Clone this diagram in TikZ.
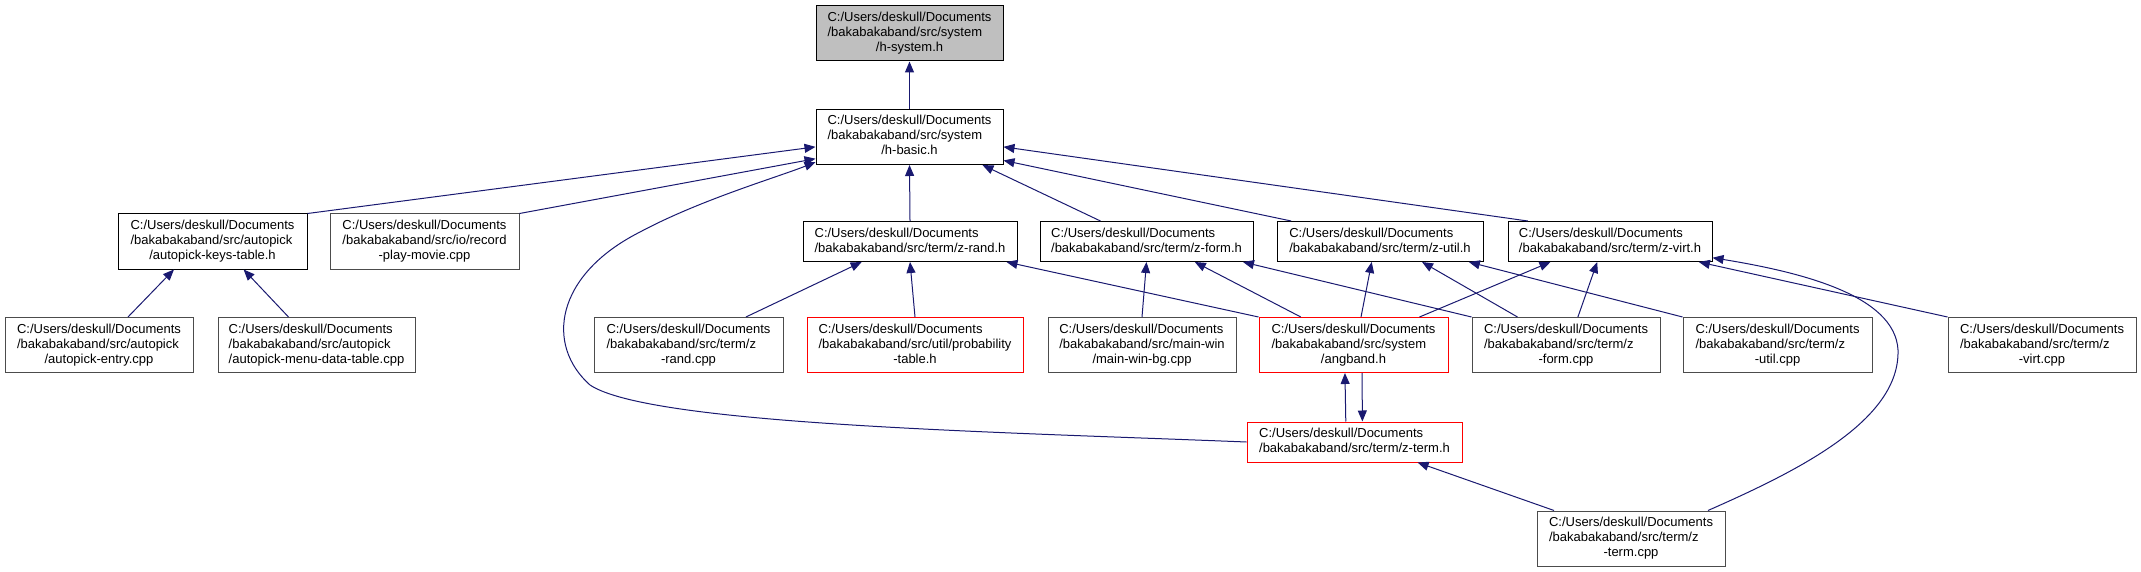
\documentclass[tikz,border=0pt]{standalone}
\usepackage{fontspec}
\setmainfont{Liberation Sans}
\usetikzlibrary{arrows.meta}
\definecolor{edgeblue}{HTML}{191970}
\definecolor{hdrgray}{HTML}{BFBFBF}
\newcommand{\flabel}[3]{\begin{tabular}{@{}l@{}}#1\\#2\\\multicolumn{1}{@{}c@{}}{#3}\end{tabular}}
\newcommand{\flabelb}[2]{\begin{tabular}{@{}l@{}}#1\\#2\end{tabular}}

\begin{document}
\begin{tikzpicture}[x=1pt, y=-1pt,
  every node/.style={font=\fontsize{13}{15}\selectfont},
  fnode/.style={draw=black, fill=white, line width=1pt, inner sep=0pt, minimum height=55},
  fnodecpp/.style={fnode, draw=black!70},
  fnodered/.style={fnode, draw=red},
  incl/.style={edgeblue, line width=1pt, -{Triangle[length=11pt, width=9pt]}}]
  \useasboundingbox (0,0) rectangle (2141,572);
  % top two
  \node[fnode, fill=hdrgray, minimum width=187] (hsystem) at (909.5,33.5) {\flabel{C:/Users/deskull/Documents}{/bakabakaband/src/system}{/h-system.h}};
  \node[fnode, minimum width=187] (hbasic) at (909.5,137) {\flabel{C:/Users/deskull/Documents}{/bakabakaband/src/system}{/h-basic.h}};
  % second row
  \node[fnode, minimum width=189] (keystable) at (212.5,241.5) {\flabel{C:/Users/deskull/Documents}{/bakabakaband/src/autopick}{/autopick-keys-table.h}};
  \node[fnodecpp, minimum width=189] (record) at (424.5,241.5) {\flabel{C:/Users/deskull/Documents}{/bakabakaband/src/io/record}{-play-movie.cpp}};
  \node[fnode, minimum width=214, minimum height=40] (zrandh) at (910,241.5) {\flabelb{C:/Users/deskull/Documents}{/bakabakaband/src/term/z-rand.h}};
  \node[fnode, minimum width=213, minimum height=40] (zformh) at (1146.5,241.5) {\flabelb{C:/Users/deskull/Documents}{/bakabakaband/src/term/z-form.h}};
  \node[fnode, minimum width=206, minimum height=40] (zutilh) at (1380,241.5) {\flabelb{C:/Users/deskull/Documents}{/bakabakaband/src/term/z-util.h}};
  \node[fnode, minimum width=204, minimum height=40] (zvirth) at (1610,241.5) {\flabelb{C:/Users/deskull/Documents}{/bakabakaband/src/term/z-virt.h}};
  % third row
  \node[fnodecpp, minimum width=188] (entry) at (99,345) {\flabel{C:/Users/deskull/Documents}{/bakabakaband/src/autopick}{/autopick-entry.cpp}};
  \node[fnodecpp, minimum width=197] (menudata) at (316.5,345) {\flabel{C:/Users/deskull/Documents}{/bakabakaband/src/autopick}{/autopick-menu-data-table.cpp}};
  \node[fnodecpp, minimum width=189] (zrandcpp) at (688.5,345) {\flabel{C:/Users/deskull/Documents}{/bakabakaband/src/term/z}{-rand.cpp}};
  \node[fnodered, minimum width=216] (probtable) at (915,345) {\flabel{C:/Users/deskull/Documents}{/bakabakaband/src/util/probability}{-table.h}};
  \node[fnodecpp, minimum width=188] (mainwinbg) at (1142,345) {\flabel{C:/Users/deskull/Documents}{/bakabakaband/src/main-win}{/main-win-bg.cpp}};
  \node[fnodered, minimum width=189] (angband) at (1353.5,345) {\flabel{C:/Users/deskull/Documents}{/bakabakaband/src/system}{/angband.h}};
  \node[fnodecpp, minimum width=188] (zformcpp) at (1566,345) {\flabel{C:/Users/deskull/Documents}{/bakabakaband/src/term/z}{-form.cpp}};
  \node[fnodecpp, minimum width=189] (zutilcpp) at (1777.5,345) {\flabel{C:/Users/deskull/Documents}{/bakabakaband/src/term/z}{-util.cpp}};
  \node[fnodecpp, minimum width=188] (zvirtcpp) at (2042,345) {\flabel{C:/Users/deskull/Documents}{/bakabakaband/src/term/z}{-virt.cpp}};
  % bottom
  \node[fnodered, minimum width=215, minimum height=40] (ztermh) at (1354.5,442) {\flabelb{C:/Users/deskull/Documents}{/bakabakaband/src/term/z-term.h}};
  \node[fnodecpp, minimum width=188] (ztermcpp) at (1631,538.5) {\flabel{C:/Users/deskull/Documents}{/bakabakaband/src/term/z}{-term.cpp}};

  % includes into h-basic
  \draw[incl] (hbasic) -- (hsystem);
  \draw[incl] (keystable.north east) -- (hbasic.186);
  \draw[incl] (record.north east) -- (hbasic.193);
  \draw[incl] (ztermh.west) .. controls (1000,432) and (650,425) .. (590,385)
    .. controls (545,345) and (555,275) .. (640,232)
    .. controls (700,200) and (775,178) .. (hbasic.195);
  \draw[incl] (zrandh.north) -- (hbasic.south);
  \draw[incl] (zformh.156) -- (hbasic.-21);
  \draw[incl] (zutilh.167) -- (hbasic.-14);
  \draw[incl] (zvirth.166) -- (hbasic.-6);
  % second level
  \draw[incl] (entry.44) -- (keystable.-144);
  \draw[incl] (menudata.135) -- (keystable.-42);
  \draw[incl] (zrandcpp.26) -- (zrandh.-157);
  \draw[incl] (probtable.north) -- (zrandh.south);
  \draw[incl] (angband.north west) -- (zrandh.-12);
  \draw[incl] (mainwinbg.north) -- (zformh.south);
  \draw[incl] (angband.152) -- (zformh.-23);
  \draw[incl] (zformcpp.north west) -- (zformh.-12);
  \draw[incl] (angband.75) -- (zutilh.-112);
  \draw[incl] (zformcpp.150) -- (zutilh.-26);
  \draw[incl] (zutilcpp.north west) -- (zutilh.-13);
  \draw[incl] (angband.23) -- (zvirth.-161);
  \draw[incl] (zformcpp.67) -- (zvirth.-122);
  \draw[incl] (zvirtcpp.north west) -- (zvirth.-13);
  \draw[incl] (ztermcpp.20) .. controls (1800,470) and (1900,420) .. (1898,350)
    .. controls (1895,295) and (1800,272) .. (zvirth.-9);
  % z-term
  \draw[incl] (ztermh.113) -- (angband.-107);
  \draw[incl] (angband.-73) -- (ztermh.69);
  \draw[incl] (ztermcpp.160) -- (ztermh.-18);
\end{tikzpicture}
\end{document}
